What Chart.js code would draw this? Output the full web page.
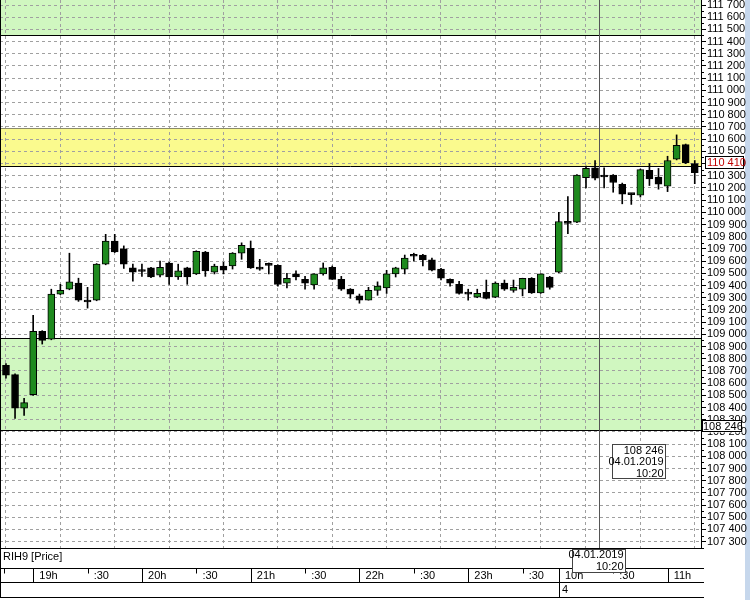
<!DOCTYPE html>
<html>
<head>
<meta charset="utf-8">
<script src="https://cdn.jsdelivr.net/npm/chart.js@4/dist/chart.umd.min.js"></script>
<style>
  html, body { margin: 0; padding: 0; background: #fff; }
</style>
</head>
<body>
<canvas id="chart" width="750" height="600"></canvas>
<script>
// RIH9, 5-минутные свечи (18:30 ... 11:15)
const open  = [108745, 108670, 108395, 108505, 109025, 108960, 109330, 109370, 109420, 109280,
               109280, 109575, 109765, 109700, 109545, 109520, 109545, 109485, 109585, 109470,
               109545, 109495, 109675, 109510, 109560, 109560, 109665, 109705, 109550, 109575,
               109565, 109420, 109495, 109450, 109405, 109495, 109550, 109450, 109370, 109315,
               109280, 109360, 109380, 109495, 109535, 109645, 109650, 109610, 109535, 109450,
               109410, 109345, 109305, 109345, 109305, 109420, 109360, 109370, 109460, 109340,
               109470, 109510, 109915, 109920, 110285, 110365, 110295, 110305, 110230, 110150,
               110140, 110345, 110290, 110215, 110435, 110555, 110400];
const high  = [108760, 108675, 108475, 109155, 109030, 109370, 109410, 109665, 109460, 109385,
               109580, 109820, 109820, 109725, 109575, 109575, 109550, 109600, 109590, 109575,
               109550, 109685, 109680, 109575, 109590, 109670, 109750, 109765, 109615, 109585,
               109570, 109500, 109520, 109475, 109495, 109585, 109560, 109475, 109375, 109330,
               109385, 109430, 109525, 109550, 109650, 109665, 109655, 109625, 109540, 109455,
               109435, 109370, 109370, 109445, 109430, 109445, 109445, 109460, 109465, 109495,
               109475, 110000, 110130, 110310, 110380, 110425, 110365, 110310, 110240, 110155,
               110355, 110400, 110360, 110460, 110635, 110560, 110425];
const low   = [108640, 108310, 108335, 108500, 108920, 108955, 109325, 109365, 109270, 109215,
               109275, 109570, 109670, 109540, 109435, 109475, 109465, 109470, 109410, 109450,
               109410, 109490, 109475, 109495, 109495, 109535, 109615, 109540, 109525, 109495,
               109395, 109380, 109445, 109370, 109370, 109485, 109450, 109360, 109295, 109255,
               109280, 109320, 109335, 109470, 109495, 109600, 109560, 109520, 109445, 109395,
               109330, 109280, 109300, 109290, 109300, 109360, 109345, 109315, 109335, 109335,
               109370, 109505, 109825, 109915, 110200, 110265, 110200, 110165, 110070, 110065,
               110125, 110220, 110190, 110170, 110430, 110400, 110235];
const close = [108665, 108395, 108440, 109025, 108950, 109330, 109360, 109430, 109280, 109265,
               109575, 109765, 109675, 109575, 109510, 109515, 109470, 109550, 109470, 109520,
               109470, 109680, 109520, 109560, 109525, 109665, 109730, 109545, 109535, 109565,
               109410, 109460, 109470, 109420, 109495, 109545, 109450, 109370, 109330, 109280,
               109360, 109395, 109495, 109545, 109625, 109640, 109610, 109525, 109460, 109420,
               109335, 109330, 109335, 109295, 109420, 109370, 109385, 109460, 109340, 109495,
               109385, 109925, 109910, 110305, 110360, 110280, 110290, 110245, 110150, 110145,
               110350, 110275, 110230, 110425, 110550, 110405, 110325];

// подписи шкалы времени (по номеру свечи)
const xTickIdx    = [3, 9, 15, 21, 27, 33, 39, 45, 51, 57, 61, 67, 73];
const xTickLabels = ["19h", ":30", "20h", ":30", "21h", ":30", "22h", ":30", "23h", ":30", "10h", ":30", "11h"];
const dayIdx = 61, dayLabel = "4";

// ценовые зоны
const zoneFrom = [111450, 110380, 108215];
const zoneTo   = [111800, 110690, 108970];

const lastPrice = 110410;
const crossIdx = 65.4, crossPrice = 108246;
const crossDate = "04.01.2019", crossTime = "10:20";

const yTicks = [];
for (let v = 107300; v <= 111700; v += 100) yTicks.push(v);

const FONT = "11px 'Liberation Sans', Arial, sans-serif";
const fmt = v => { const s = String(Math.round(v)); return s.slice(0, -3) + " " + s.slice(-3); };

const zonesPlugin = {
    id: "zones",
    beforeDraw(chart) {
        const { ctx, chartArea: a, scales: { y } } = chart;
        ctx.save();
        ctx.fillStyle = "#fff";
        ctx.fillRect(0, 0, chart.width, chart.height);
        ctx.fillStyle = "#c6d7ec";
        ctx.fillRect(745, 0, 5, chart.height);
        const fills = ["#d0f7c0", "#fafa8e", "#d0f7c0"];
        ctx.beginPath();
        ctx.rect(a.left, a.top, a.right - a.left, a.bottom - a.top);
        ctx.clip();
        zoneFrom.forEach((f, i) => {
            const y1 = y.getPixelForValue(zoneTo[i]), y2 = y.getPixelForValue(f);
            ctx.fillStyle = fills[i];
            ctx.fillRect(a.left, y1, a.right - a.left, y2 - y1);
        });
        ctx.restore();
    },
    beforeDatasetsDraw(chart) {
        const { ctx, chartArea: a, scales: { y } } = chart;
        ctx.save();
        ctx.lineWidth = 1;
        const hline = (v, c) => {
            const py = Math.round(y.getPixelForValue(v)) + 0.5;
            if (py < a.top || py > a.bottom) return;
            ctx.strokeStyle = c;
            ctx.beginPath(); ctx.moveTo(a.left, py); ctx.lineTo(a.right, py); ctx.stroke();
        };
        zoneFrom.forEach((f, i) => { hline(f, "#000"); hline(zoneTo[i], i === 1 ? "#8a8a6a" : "#000"); });
        ctx.restore();
    },
    afterDraw(chart) {
        const { ctx, chartArea: a, scales: { x, y } } = chart;
        ctx.save();
        ctx.font = FONT;
        ctx.lineWidth = 1;
        ctx.strokeStyle = "#000";
        const line = (x1, y1, x2, y2) => { ctx.beginPath(); ctx.moveTo(x1, y1); ctx.lineTo(x2, y2); ctx.stroke(); };

        // минорные риски цены
        for (let v = 107250; v <= 111700; v += 100) {
            const py = Math.round(y.getPixelForValue(v)) + 0.5;
            line(a.right, py, a.right + 3, py);
        }
        // левая граница
        line(0.5, 0, 0.5, 597);

        // перекрестие
        const cx = Math.round(x.getPixelForValue(crossIdx)) + 0.5;
        const cy = Math.round(y.getPixelForValue(crossPrice)) + 0.5;
        ctx.strokeStyle = "#555";
        line(cx, a.top, cx, a.bottom);
        ctx.strokeStyle = "#000";

        // полоса времени
        ctx.fillStyle = "#000";
        ctx.textBaseline = "middle";
        ctx.textAlign = "left";
        ctx.fillText("RIH9 [Price]", 3, 557);
        const r1 = 568.5, r2 = 582.5, r3 = 597.5, xr = 704;
        line(0, r1, xr, r1);
        line(0, r2, xr, r2);
        line(0, r3, xr, r3);
        xTickIdx.forEach((k, i) => {
            const px = Math.round(x.getPixelForValue(k)) + 0.5;
            if (k === dayIdx) line(px, r1, px, r3);
            else if (xTickLabels[i].startsWith(":")) line(px, r1, px, r1 + 5);
            else line(px, r1, px, r2);
        });
        line(4.5, r1, 4.5, r1 + 5);
        ctx.fillText(dayLabel, Math.round(x.getPixelForValue(dayIdx)) + 3, 590);

        // метка времени перекрестия
        ctx.fillStyle = "#fff";
        ctx.fillRect(cx - 27, 549, 53, 23);
        ctx.strokeStyle = "#444";
        ctx.strokeRect(cx - 27, 549.5, 53, 23);
        ctx.fillStyle = "#000";
        ctx.textAlign = "right";
        ctx.fillText(crossDate, cx + 24, 555);
        ctx.fillText(crossTime, cx + 24, 567);

        // подсказка на графике
        ctx.fillStyle = "#fff";
        ctx.fillRect(cx + 13, cy + 18, 53, 34);
        ctx.strokeStyle = "#444";
        ctx.strokeRect(cx + 13, cy + 18, 53, 34);
        ctx.fillStyle = "#000";
        ctx.fillText(fmt(crossPrice), cx + 64, cy + 24);
        ctx.fillText(crossDate, cx + 64, cy + 35);
        ctx.fillText(crossTime, cx + 64, cy + 47);

        // метки на шкале цены
        ctx.textAlign = "left";
        const lp = Math.round(y.getPixelForValue(lastPrice));
        ctx.fillStyle = "#fff";
        ctx.fillRect(705, lp - 6, 38, 13);
        ctx.strokeStyle = "#000";
        ctx.strokeRect(705.5, lp - 5.5, 38, 12);
        ctx.fillStyle = "#c00000";
        ctx.fillText(fmt(lastPrice), 707, lp + 1);
        ctx.fillStyle = "#fff";
        ctx.fillRect(702, cy - 6, 40, 12);
        ctx.strokeStyle = "#000";
        ctx.strokeRect(702.5, cy - 6, 39, 11);
        ctx.fillStyle = "#000";
        ctx.fillText(fmt(crossPrice), 703, cy);
        ctx.restore();
    }
};

const bodies = open.map((o, i) => ({ x: i, y: [o, close[i]] }));
const wicks  = open.map((o, i) => ({ x: i, y: [low[i], high[i]] }));

new Chart(document.getElementById("chart").getContext("2d"), {
    type: "bar",
    data: {
        datasets: [{
            label: "body",
            data: bodies,
            order: 0,
            grouped: false,
            barThickness: 7,
            minBarLength: 2,
            backgroundColor: close.map((c, i) => c > open[i] ? "#1e8a1e" : "#000"),
            borderColor: "#000",
            borderWidth: 1,
            borderSkipped: false
        }, {
            label: "wick",
            data: wicks,
            order: 1,
            grouped: false,
            barThickness: 1,
            backgroundColor: "#000",
            borderWidth: 0
        }]
    },
    options: {
        responsive: false,
        animation: false,
        devicePixelRatio: 1,
        layout: { padding: 0 },
        plugins: { legend: { display: false }, tooltip: { enabled: false } },
        scales: {
            x: {
                type: "linear",
                min: -0.66,
                max: 76.69,
                offset: false,
                afterBuildTicks: s => { s.ticks = xTickIdx.map(v => ({ value: v })); },
                afterFit: s => { s.height = 52; s.paddingLeft = 0; s.paddingRight = 0; },
                ticks: {
                    autoSkip: false,
                    maxRotation: 0,
                    align: "start",
                    padding: 21,
                    color: "#000",
                    font: { family: "'Liberation Sans', Arial, sans-serif", size: 11 },
                    callback: (v, i) => "  " + xTickLabels[i]
                },
                grid: { color: "#a0a0a0", drawTicks: false },
                border: { color: "#000", dash: [3, 3] }
            },
            y: {
                position: "right",
                min: 107248,
                max: 111741,
                afterBuildTicks: s => { s.ticks = yTicks.map(v => ({ value: v })); },
                afterFit: s => { s.width = 49; s.paddingTop = 0; s.paddingBottom = 0; },
                ticks: {
                    autoSkip: false,
                    padding: 1,
                    color: "#000",
                    font: { family: "'Liberation Sans', Arial, sans-serif", size: 11 },
                    callback: v => fmt(v)
                },
                grid: { color: "#a0a0a0", tickColor: "#000", tickLength: 5 },
                border: { color: "#000", dash: [3, 3] }
            }
        }
    },
    plugins: [zonesPlugin]
});
</script>
</body>
</html>
